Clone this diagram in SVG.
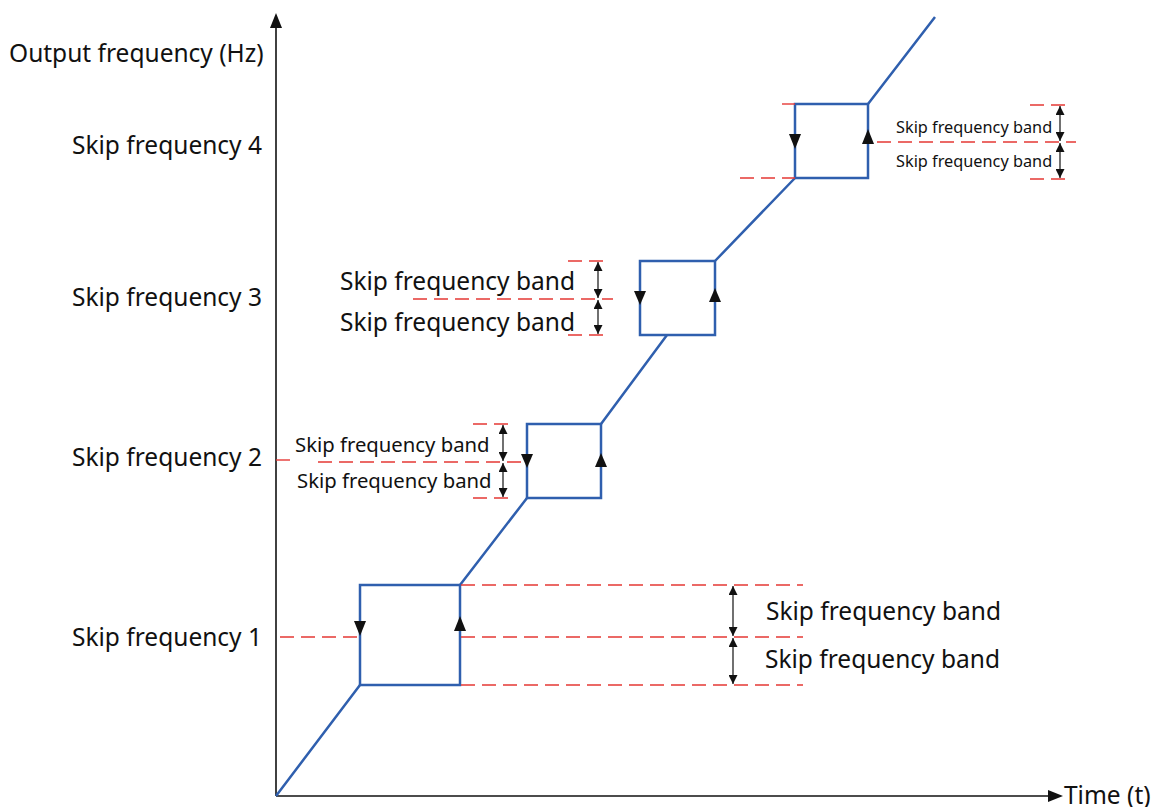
<svg xmlns="http://www.w3.org/2000/svg" width="1164" height="807" viewBox="0 0 1164 807">
<style>
.t{font-family:"Noto Sans","Liberation Sans",sans-serif;fill:#111}
.ax{stroke:#111;stroke-width:1.6;fill:none}
.blue{stroke:#2f5fae;stroke-width:2.5;fill:none}
.rd{stroke:#e53935;stroke-width:1.4;stroke-dasharray:14 7;fill:none}
.rs{stroke:#e53935;stroke-width:1.4;fill:none}
.dim{stroke:#111;stroke-width:1.2;fill:none;marker-start:url(#ah);marker-end:url(#ah)}
</style>
<defs>
<marker id="ah" viewBox="0 0 10 10" refX="10" refY="5" markerWidth="9" markerHeight="9" markerUnits="userSpaceOnUse" orient="auto-start-reverse">
<path d="M0,0 L10,5 L0,10 Z" fill="#111"/>
</marker>
</defs>
<g id="axes">
<line class="ax" x1="276" y1="796" x2="276" y2="26"/>
<polygon points="276,13 270,28 282,28" fill="#111"/>
<line class="ax" x1="276" y1="796" x2="1050" y2="796"/>
<polygon points="1063,796 1048,790 1048,802" fill="#111"/>
<text class="t" x="1064" y="804" font-size="24.5">Time (t)</text>
<text class="t" x="9" y="62" font-size="24.5">Output frequency (Hz)</text>
</g>
<g id="labels">
<text class="t" x="262" y="154" font-size="24.5" text-anchor="end">Skip frequency 4</text>
<text class="t" x="262" y="306" font-size="24.5" text-anchor="end">Skip frequency 3</text>
<text class="t" x="262" y="466" font-size="24.5" text-anchor="end">Skip frequency 2</text>
<text class="t" x="262" y="646" font-size="24.5" text-anchor="end">Skip frequency 1</text>
</g>
<g id="connectors">
<path class="blue" d="M276,796 L360,685 M460,585 L527,498 M601,424 L667,335 M715,261 L795,178 M868,104 L935,17"/>
</g>
<g id="box1">
<rect class="blue" x="360" y="585" width="100" height="100"/>
<polygon points="360,636 354,621 366,621" fill="#111"/>
<polygon points="460,616 454,631 466,631" fill="#111"/>
<line class="rd" x1="280" y1="637" x2="360" y2="637"/>
<line class="rd" x1="461" y1="585" x2="803" y2="585"/>
<line class="rd" x1="461" y1="637" x2="803" y2="637"/>
<line class="rd" x1="461" y1="685" x2="803" y2="685"/>
<line class="dim" x1="733" y1="586" x2="733" y2="636"/>
<line class="dim" x1="733" y1="638" x2="733" y2="684"/>
<text class="t" x="766" y="620" font-size="24.5">Skip frequency band</text>
<text class="t" x="765" y="668" font-size="24.5">Skip frequency band</text>
</g>
<g id="box2">
<rect class="blue" x="527" y="424" width="74" height="74"/>
<polygon points="527,468 521,454 533,454" fill="#111"/>
<polygon points="601,453 595,467 607,467" fill="#111"/>
<line class="rs" x1="276" y1="460" x2="290" y2="460"/>
<line class="rd" x1="318" y1="462" x2="526" y2="462"/>
<line class="rd" x1="473" y1="424" x2="512" y2="424"/>
<line class="rd" x1="473" y1="498" x2="512" y2="498"/>
<line class="dim" x1="503" y1="425" x2="503" y2="461"/>
<line class="dim" x1="503" y1="463" x2="503" y2="497"/>
<text class="t" x="295" y="452" font-size="20.3">Skip frequency band</text>
<text class="t" x="297" y="488" font-size="20.3">Skip frequency band</text>
</g>
<g id="box3">
<rect class="blue" x="640" y="261" width="75" height="74"/>
<polygon points="640,305 634,291 646,291" fill="#111"/>
<polygon points="715,288 709,302 721,302" fill="#111"/>
<line class="rd" x1="413" y1="299" x2="613" y2="299"/>
<line class="rd" x1="568" y1="261" x2="606" y2="261"/>
<line class="rd" x1="568" y1="335" x2="606" y2="335"/>
<line class="dim" x1="598" y1="262" x2="598" y2="298"/>
<line class="dim" x1="598" y1="300" x2="598" y2="334"/>
<text class="t" x="340" y="290" font-size="24.5">Skip frequency band</text>
<text class="t" x="340" y="331" font-size="24.5">Skip frequency band</text>
</g>
<g id="box4">
<rect class="blue" x="795" y="104" width="73" height="74"/>
<polygon points="795,149 789,134 801,134" fill="#111"/>
<polygon points="868,129 862,144 874,144" fill="#111"/>
<line class="rs" x1="782" y1="104" x2="795" y2="104"/>
<line class="rd" x1="740" y1="178" x2="795" y2="178"/>
<line class="rd" x1="877" y1="142" x2="1076" y2="142"/>
<line class="rd" x1="1030" y1="105" x2="1068" y2="105"/>
<line class="rd" x1="1030" y1="179" x2="1068" y2="179"/>
<line class="dim" x1="1060" y1="106" x2="1060" y2="141"/>
<line class="dim" x1="1060" y1="143" x2="1060" y2="178"/>
<text class="t" x="896" y="133" font-size="16.3">Skip frequency band</text>
<text class="t" x="896" y="167" font-size="16.3">Skip frequency band</text>
</g>
</svg>
